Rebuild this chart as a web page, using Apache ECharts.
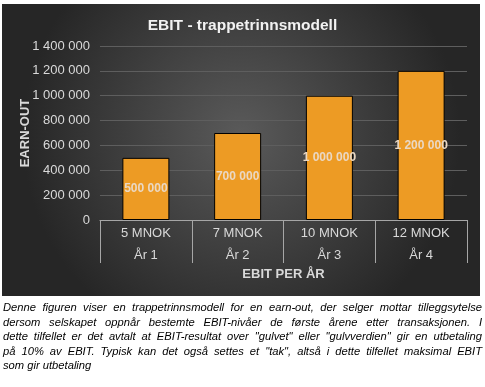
<!DOCTYPE html>
<html>
<head>
<meta charset="utf-8">
<script src="https://cdn.jsdelivr.net/npm/echarts@6/dist/echarts.min.js"></script>
<style>
  html, body { margin: 0; padding: 0; background: #ffffff; }
  #wrap { position: relative; width: 485px; height: 387px; overflow: hidden; }
  #chart { position: absolute; left: 0; top: 0; width: 485px; height: 387px; }
  #caption { position: absolute; left: 3px; top: 300px; width: 479px;
    font-family: "Liberation Sans", Arial, sans-serif; font-style: italic; font-size: 11.2px;
    line-height: 14.5px; color: #000; }
  #caption .j { text-align: justify; text-align-last: justify; white-space: nowrap; }
  #caption .l { text-align: left; white-space: nowrap; }
</style>
</head>
<body>
<div id="wrap">
  <div id="chart"></div>
  <div id="caption">
    <div class="j">Denne figuren viser en trappetrinnsmodell for en earn-out, der selger mottar tilleggsytelse</div>
    <div class="j">dersom selskapet oppnår bestemte EBIT-nivåer de første årene etter transaksjonen. I</div>
    <div class="j">dette tilfellet er det avtalt at EBIT-resultat over "gulvet" eller "gulvverdien" gir en utbetaling</div>
    <div class="j">på 10% av EBIT. Typisk kan det også settes et "tak", altså i dette tilfellet maksimal EBIT</div>
    <div class="l">som gir utbetaling</div>
  </div>
</div>
<script>
const titleText = 'EBIT - trappetrinnsmodell';
const ebitLevels = ['5 MNOK', '7 MNOK', '10 MNOK', '12 MNOK'];
const years = ['År 1', 'År 2', 'År 3', 'År 4'];
const earnOut = [500000, 700000, 1000000, 1200000];
const yMin = 0, yMax = 1400000, yStep = 200000;
const yAxisName = 'EARN-OUT';
const xAxisName = 'EBIT PER ÅR';

const fmt = v => String(v).replace(/\B(?=(\d{3})+(?!\d))/g, ' ');
const cats = ebitLevels.map((e, i) => e + '\n' + years[i]);

const chart = echarts.init(document.getElementById('chart'), null, { renderer: 'canvas' });
chart.setOption({
  animation: false,
  backgroundColor: 'transparent',
  graphic: [{
    type: 'rect', z: -10, silent: true,
    shape: { x: 2, y: 4, width: 478, height: 292 },
    style: {
      fill: {
        type: 'radial', x: 0.5, y: 0.45, r: 0.75,
        colorStops: [{ offset: 0, color: '#5a5a5a' }, { offset: 1, color: '#262626' }]
      }
    }
  }],
  title: {
    text: titleText, left: 'center', top: 13,
    textStyle: { color: '#f2f2f2', fontSize: 15.5, fontWeight: 'bold', fontFamily: 'Liberation Sans, Arial' }
  },
  grid: { left: 100, right: 18, top: 46, bottom: 167 },
  xAxis: {
    type: 'category', data: cats,
    name: xAxisName, nameLocation: 'middle', nameGap: 48,
    nameTextStyle: { color: '#d9d9d9', fontSize: 13, fontWeight: 'bold', fontFamily: 'Liberation Sans, Arial' },
    axisLine: { lineStyle: { color: '#a6a6a6', width: 1 } },
    axisTick: { show: true, length: 43, alignWithLabel: false, lineStyle: { color: '#a6a6a6' } },
    axisLabel: { color: '#d9d9d9', fontSize: 13, lineHeight: 22, margin: 2, fontFamily: 'Liberation Sans, Arial' },
    splitLine: { show: false }
  },
  yAxis: {
    type: 'value', min: yMin, max: yMax, interval: yStep,
    name: yAxisName, nameLocation: 'middle', nameGap: 68, nameRotate: 90, nameMoveOverlap: false,
    nameTextStyle: { color: '#d9d9d9', fontSize: 13, fontWeight: 'bold', fontFamily: 'Liberation Sans, Arial' },
    axisLine: { show: false }, axisTick: { show: false },
    axisLabel: { color: '#d9d9d9', fontSize: 13, margin: 10, formatter: fmt, fontFamily: 'Liberation Sans, Arial' },
    splitLine: { lineStyle: { color: '#5e5e5e', width: 1 } }
  },
  series: [{
    type: 'bar', data: earnOut, barWidth: 47,
    itemStyle: { color: '#ED9B24', borderColor: '#000000', borderWidth: 1 },
    label: {
      show: true, position: 'inside', formatter: p => fmt(p.value),
      color: '#ead8c4', fontSize: 12, fontWeight: 'bold', fontFamily: 'Liberation Sans, Arial'
    }
  }]
});
</script>
</body>
</html>
